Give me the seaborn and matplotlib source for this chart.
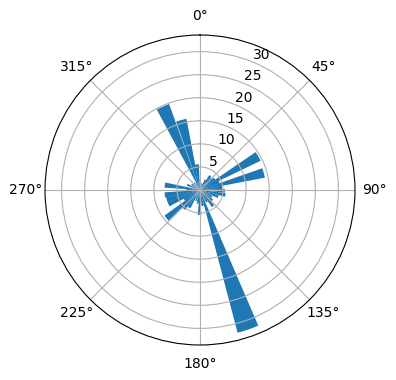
import numpy as np
import seaborn as sns
import matplotlib
matplotlib.use("Agg")
import matplotlib.pyplot as plt

# direction (deg, clockwise from north) and length of each bar
directions = [353, 345, 336, 322, 305, 292, 278, 270, 262, 254, 246, 238, 230,
              221, 212, 200, 190, 181, 170, 161, 150, 141, 130, 120, 110, 101,
              92, 83, 75, 67, 60, 52, 44, 36, 28, 18, 8]
lengths = [5.6, 15.7, 19.8, 2.0, 2.2, 3.0, 7.7, 3.0, 7.7, 7.5, 7.5, 4.0, 9.5,
           5.4, 4.5, 2.5, 3.0, 5.4, 3.5, 32.0, 3.0, 4.5, 3.5, 3.0, 4.2, 5.6,
           5.4, 4.8, 14.3, 4.5, 14.6, 4.0, 3.5, 3.8, 2.5, 1.5, 1.5]

color = sns.color_palette()[0]

fig = plt.figure(figsize=(3.96, 3.80), dpi=100)
ax = fig.add_axes([45 / 396, 35 / 380, 310 / 396, 310 / 380], projection="polar")
ax.set_theta_zero_location("N")
ax.set_theta_direction(-1)

ax.bar(np.radians(directions), lengths, width=np.radians(8.5), color=color)
ax.set_rticks([5, 10, 15, 20, 25, 30])

fig.savefig("out.png", dpi=100)
